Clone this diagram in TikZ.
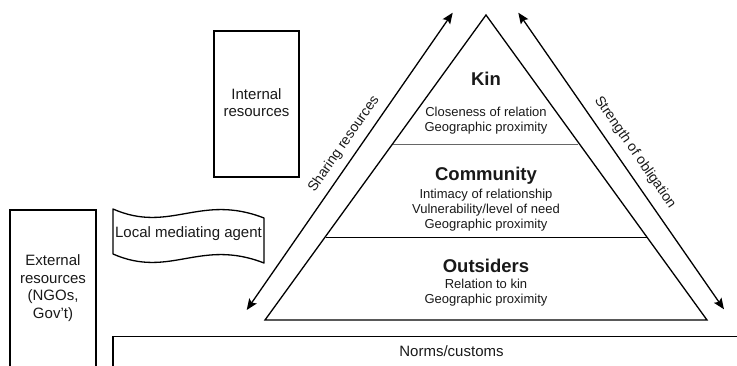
\documentclass[tikz,border=0pt]{standalone}
\usepackage{fontspec}
\setmainfont{Liberation Sans}
\usetikzlibrary{arrows.meta}
\tikzset{
  shape line/.style={draw=black, line width=1.3pt},
  box text/.style={font=\fontsize{15}{17.5}\selectfont, align=center, text=black!90, inner sep=0pt},
  tier title/.style={font=\fontsize{18.5}{20}\selectfont\bfseries, text=black!90, inner sep=0pt},
  tier text/.style={font=\fontsize{13}{15}\selectfont, align=center, text=black!90, inner sep=0pt},
  side label/.style={font=\fontsize{14}{16}\selectfont, text=black!90, inner sep=0pt},
  dbl arrow/.style={draw=black, line width=1.3pt, {Stealth[length=11pt,width=9pt,inset=2pt]}-{Stealth[length=11pt,width=9pt,inset=2pt]}},
}
\begin{document}
\begin{tikzpicture}[x=1pt,y=-1pt]
\useasboundingbox (0,0) rectangle (737,365);
\clip (0,0) rectangle (737,365);

% Internal resources
\node[shape line, minimum width=85pt, minimum height=146pt, inner sep=0pt] (internal) at (256.5,104) {};
\node[box text] (internaltxt) at (256.5,102.5) {Internal\\resources};

% External resources (box runs off the bottom)
\draw[shape line] (10,380) coordinate (extbl) -- (10,210) coordinate (exttl) -- (96,210) coordinate (exttr) -- (96,380) coordinate (extbr);
\node[box text] (external) at (53,288) {External\\resources\\(NGOs,\\Gov\char"27 t)};

% Local mediating agent (tape shape)
\draw[shape line, line join=round]
  (113,209) coordinate (lma1) .. controls (170,234) and (200,193) .. (264,218) coordinate (lma2)
  -- (264,263) coordinate (lma3) .. controls (200,238) and (170,279) .. (113,254) coordinate (lma4) -- cycle;
\node[box text] (lma) at (188.5,234) {Local mediating agent};

% Pyramid
\coordinate (A) at (265,320);
\coordinate (T) at (486,15);
\coordinate (B) at (707,320);
\draw[shape line, line join=miter] (A) -- (T) -- (B) -- cycle;
\coordinate (d1l) at (392.7,144);
\coordinate (d1r) at (577.7,144);
\coordinate (d2l) at (325.7,237.7);
\coordinate (d2r) at (646.7,237.7);
\draw[draw=black!60, line width=1pt] (d1l) -- (d1r);
\draw[draw=black, line width=1.2pt] (d2l) -- (d2r);

\node[tier title] (kin) at (486,79) {Kin};
\node[tier text] (kintxt) at (486,120.5) {Closeness of relation\\Geographic proximity};
\node[tier title] (community) at (486,176) {Community};
\node[tier text] (commtxt) at (486,210.5) {Intimacy of relationship\\Vulnerability/level of need\\Geographic proximity};
\node[tier title] (outsiders) at (486,266) {Outsiders};
\node[tier text] (outtxt) at (486,293) {Relation to kin\\Geographic proximity};

% Side arrows
\coordinate (sa1) at (246.7,310);
\coordinate (sa2) at (452.7,12.7);
\coordinate (so1) at (518.3,12.7);
\coordinate (so2) at (724,309.3);
\draw[dbl arrow] (sa1) -- (sa2);
\draw[dbl arrow] (so1) -- (so2);
\node[side label, rotate=55.3] (sharing) at (344,144) {Sharing resources};
\node[side label, rotate=-55.3] (strength) at (635,152.5) {Strength of obligation};

% Norms/customs
\draw[shape line] (113,380) coordinate (nbl) -- (113,336.7) coordinate (ntl) -- (760,336.7) coordinate (ntr);
\node[box text] (norms) at (451.5,351) {Norms/customs};
\end{tikzpicture}
\end{document}
